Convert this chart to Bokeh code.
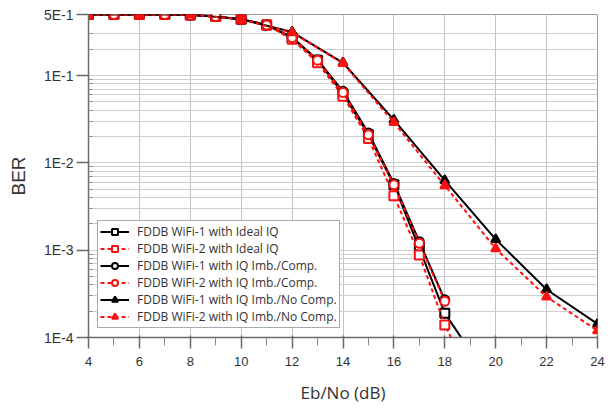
from bokeh.plotting import figure
from bokeh.models import (Range1d, FixedTicker, Legend, LegendItem)
from bokeh.embed import file_html
from bokeh.resources import INLINE

# ---------------- data ----------------
snr_full = [4, 5, 6, 7, 8, 9, 10, 11, 12, 13, 14, 15, 16, 17, 18, 19]
ber_w1_ideal = [0.5, 0.5, 0.5, 0.5, 0.495, 0.475, 0.44, 0.38, 0.27, 0.15,
                0.062, 0.021, 0.0056, 0.00105, 0.00019, 0.00007]
ber_w2_ideal = [0.5, 0.5, 0.5, 0.5, 0.495, 0.475, 0.44, 0.38, 0.26, 0.14,
                0.058, 0.019, 0.0042, 0.00088, 0.000139, 0.000036]

snr_comp = [4, 5, 6, 7, 8, 9, 10, 11, 12, 13, 14, 15, 16, 17, 18]
ber_w1_comp = [0.5, 0.5, 0.5, 0.5, 0.495, 0.475, 0.44, 0.38, 0.275, 0.152,
               0.066, 0.022, 0.0058, 0.00125, 0.00027]
ber_w2_comp = [0.5, 0.5, 0.5, 0.5, 0.495, 0.475, 0.44, 0.38, 0.27, 0.15,
               0.064, 0.021, 0.0056, 0.0012, 0.00026]

snr_nocomp = [4, 6, 8, 10, 12, 14, 16, 18, 20, 22, 24]
ber_w1_nocomp = [0.5, 0.5, 0.5, 0.44, 0.315, 0.14, 0.031, 0.0063, 0.00133,
                 0.000355, 0.000143]
ber_w2_nocomp = [0.5, 0.5, 0.5, 0.44, 0.31, 0.138, 0.029, 0.0055, 0.00104,
                 0.000292, 0.00012]

labels = ["FDDB WiFi-1 with Ideal IQ",
          "FDDB WiFi-2 with Ideal IQ",
          "FDDB WiFi-1 with IQ Imb./Comp.",
          "FDDB WiFi-2 with IQ Imb./Comp.",
          "FDDB WiFi-1 with IQ Imb./No Comp.",
          "FDDB WiFi-2 with IQ Imb./No Comp."]

x_ticks = [4, 6, 8, 10, 12, 14, 16, 18, 20, 22, 24]
x_minor_ticks = [5, 7, 9, 11, 13, 15, 17, 19, 21, 23]
y_ticks = [1e-4, 1e-3, 1e-2, 1e-1, 0.5]
y_tick_labels = ["1E-4", "1E-3", "1E-2", "1E-1", "5E-1"]
y_minor_ticks = [m * 10.0 ** e for e in (-4, -3, -2) for m in range(2, 10)] + [0.2, 0.3]

# ---------------- figure ----------------
p = figure(width=606, height=406, output_backend="svg", toolbar_location=None,
           y_axis_type="log",
           x_range=Range1d(4, 24), y_range=Range1d(1e-4, 0.5),
           min_border_left=88, min_border_right=9,
           min_border_top=14, min_border_bottom=69)
p.background_fill_color = "white"
p.border_fill_color = "white"
p.outline_line_color = "#9a9a9a"
p.outline_line_width = 1

# axes
p.xaxis.ticker = FixedTicker(ticks=x_ticks, minor_ticks=x_minor_ticks)
p.yaxis.ticker = FixedTicker(ticks=y_ticks, minor_ticks=y_minor_ticks)
p.yaxis.major_label_overrides = dict(zip(y_ticks, y_tick_labels))

for ax in (p.xaxis, p.yaxis):
    ax.axis_line_color = "#6a6a6a"
    ax.axis_line_width = 1.5
    ax.major_tick_line_color = "#6a6a6a"
    ax.major_tick_line_width = 1.5
    ax.minor_tick_line_color = "#8a8a8a"
    ax.major_label_text_font = "Liberation Sans"
    ax.major_label_text_color = "#333333"

p.xaxis.major_tick_in = 2
p.xaxis.major_tick_out = 11
p.xaxis.minor_tick_in = 0
p.xaxis.minor_tick_out = 8
p.xaxis.major_label_standoff = 8
p.xaxis.major_label_text_font_size = "13px"
p.xaxis.axis_label = "Eb/No (dB)"
p.xaxis.axis_label_text_font = "Open Sans"
p.xaxis.axis_label_text_font_style = "normal"
p.xaxis.axis_label_text_font_size = "17px"
p.xaxis.axis_label_text_color = "#333333"
p.xaxis.axis_label_standoff = 12

p.yaxis.major_tick_in = 0
p.yaxis.major_tick_out = 12
p.yaxis.minor_tick_in = 4
p.yaxis.minor_tick_out = 0
p.yaxis.major_label_standoff = 3
p.yaxis.major_label_text_font_size = "14px"
p.yaxis.axis_label = "BER"
p.yaxis.axis_label_text_font = "Liberation Sans"
p.yaxis.axis_label_text_font_style = "normal"
p.yaxis.axis_label_text_font_size = "19px"
p.yaxis.axis_label_text_color = "#333333"
p.yaxis.axis_label_standoff = 12

# grid
p.xgrid.grid_line_color = "#c4c4c4"
p.xgrid.grid_line_width = 1
p.ygrid.grid_line_color = "#cfcfcf"
p.ygrid.grid_line_width = 1
p.ygrid.minor_grid_line_color = "#cfcfcf"
p.ygrid.minor_grid_line_width = 1

# ---------------- series ----------------
series = [
    (snr_full, ber_w1_ideal, "black", "solid", "square", "white"),
    (snr_full, ber_w2_ideal, "#ff1010", "4 3", "square", "white"),
    (snr_comp, ber_w1_comp, "black", "solid", "circle", "white"),
    (snr_comp, ber_w2_comp, "#ff1010", "4 3", "circle", "white"),
    (snr_nocomp, ber_w1_nocomp, "black", "solid", "triangle", "black"),
    (snr_nocomp, ber_w2_nocomp, "#ff1010", "4 3", "triangle", "#ff1010"),
]

items = []
for (xs, ys, col, dash, mk, fill), lab in zip(series, labels):
    ln = p.line(xs, ys, line_color=col, line_width=2, line_dash=dash)
    sc = p.scatter(xs, ys, marker=mk, size=9, line_color=col, line_width=2,
                   fill_color=fill)
    items.append(LegendItem(label=lab, renderers=[ln, sc]))

legend = Legend(items=items, location=(9, 9), orientation="vertical")
legend.border_line_color = "#555555"
legend.border_line_width = 1.2
legend.background_fill_color = "white"
legend.background_fill_alpha = 1
legend.label_text_font = "Open Sans"
legend.label_text_font_size = "12px"
legend.label_text_color = "#333333"
legend.glyph_width = 29
legend.glyph_height = 15
legend.label_height = 15
legend.label_standoff = 8
legend.spacing = 0
legend.padding = 2
legend.margin = 0
p.add_layout(legend, "center")

open("out.html", "w").write(file_html(p, INLINE))
